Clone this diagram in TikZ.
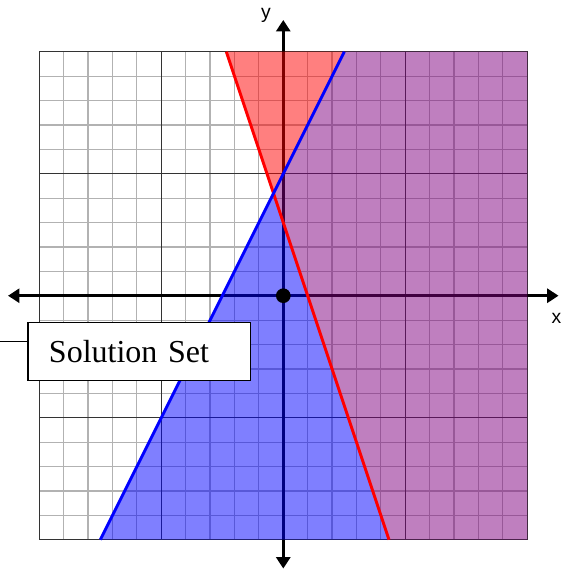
\documentclass[tikz,border=0pt]{standalone}
\usepackage{fontspec}
\setmainfont{Liberation Serif}
\setsansfont{Liberation Sans}
\usetikzlibrary{arrows.meta,calc}
\definecolor{mix}{RGB}{128,0,128}

\begin{document}
\begin{tikzpicture}[x=18.3pt, y=18.3pt,
  minor/.style={draw=black!30, line width=0.9pt},
  major/.style={draw=black!80, line width=1.1pt},
  axis/.style={line width=2pt, {Triangle[length=8.5pt,width=10.5pt]}-{Triangle[length=8.5pt,width=10.5pt]}},
  shade/.style={opacity=0.5},
  bound/.style={line width=2.2pt},
  lbl/.style={font=\sffamily\fontsize{14.5}{16}\selectfont, inner sep=0pt},
  setbox/.style={draw, line width=1pt, fill=white, text width=135.5pt, align=left,
                 inner xsep=15.75pt, minimum height=43.8pt,
                 font=\fontsize{24}{28}\selectfont},
]
\useasboundingbox (-11.61,-11.20) rectangle (11.50,12.12);

% grid
\draw[minor] (-10,-10) grid[step={(1,1)}] (10,10);
\draw[major] (-10,-10) grid[step={(5,5)}] (10,10);
\draw[major] (-10,-10) rectangle (10,10);

% axes
\draw[axis] (-11.28,0) -- (11.28,0);
\draw[axis] (0,-11.18) -- (0,11.3);

% boundary lines
\coordinate (rtop) at (-7/3,10);
\coordinate (rbot) at (13/3,-10);
\coordinate (btop) at (2.5,10);
\coordinate (bbot) at (-7.5,-10);
\coordinate (meet) at (-0.4,4.2);

% shaded regions
\fill[red, shade] (rtop) -- (btop) -- (meet) -- cycle;
\fill[blue, shade] (meet) -- (bbot) -- (rbot) -- cycle;
\fill[mix, shade] (meet) -- (btop) -- (10,10) -- (10,-10) -- (rbot) -- cycle;

\draw[red, bound] (rtop) -- (rbot);
\draw[blue, bound] (btop) -- (bbot);

\node[circle, fill, inner sep=0pt, minimum size=11pt] (origin) at (0,0) {};

\node[lbl] (ylab) at (-0.71,11.5) {y};
\node[lbl] (xlab) at (11.2,-0.91) {x};

% solution set label
\node[setbox] (sol) at (-5.90,-2.285) {Solution Set};
\coordinate (tail) at (-11.61,-1.857);
\draw[line width=0.75pt] (tail) -- (tail -| sol.west);
\end{tikzpicture}
\end{document}
